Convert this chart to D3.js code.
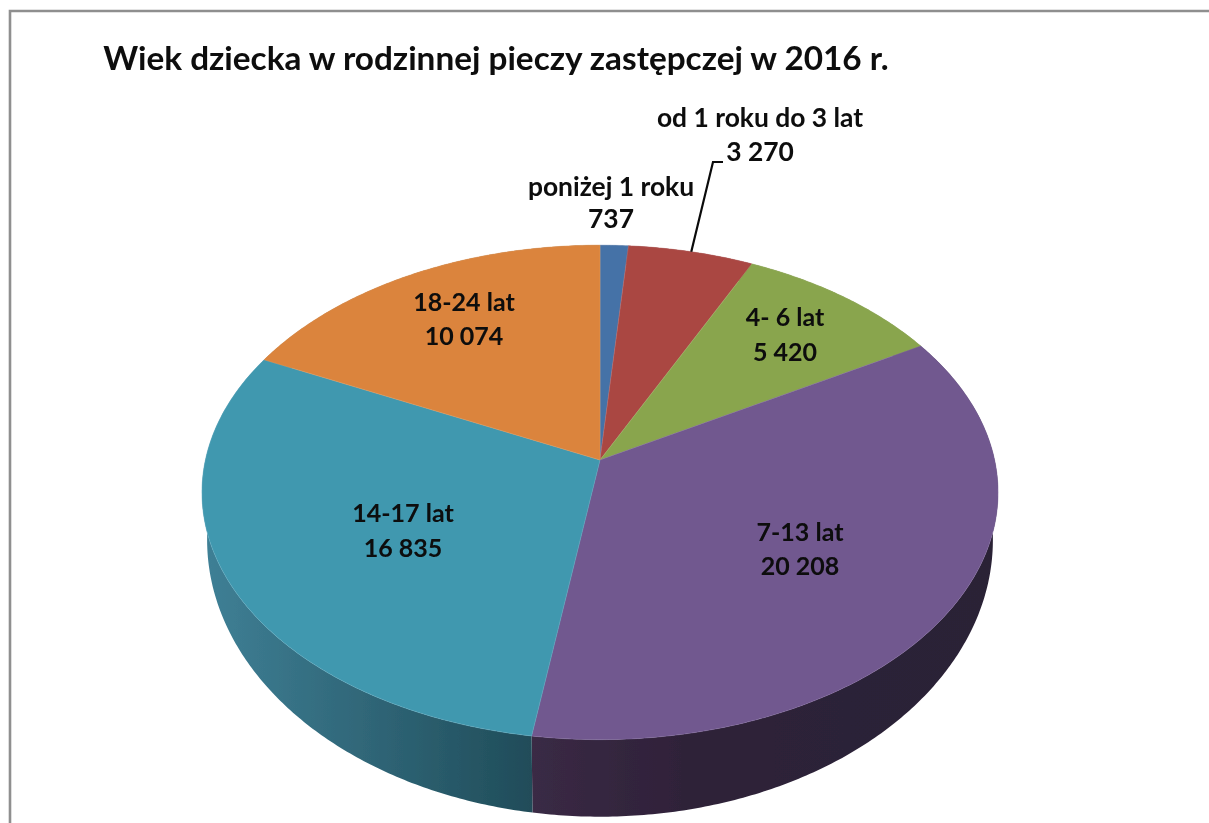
<!DOCTYPE html>
<html lang="pl">
<head>
<meta charset="utf-8">
<script src="https://cdn.jsdelivr.net/npm/d3@7/dist/d3.min.js"></script>
<style>
html,body{margin:0;padding:0;background:#fff;overflow:hidden}
svg{display:block}
text{font-family:Lato,"Open Sans",sans-serif;font-weight:700;fill:#0a0a0a;text-anchor:middle}
</style>
</head>
<body>
<svg id="chart" width="1209" height="823"></svg>
<script>
const titleText = "Wiek dziecka w rodzinnej pieczy zastępczej w 2016 r.";
const categories = ["poniżej 1 roku","od 1 roku do 3 lat","4- 6 lat","7-13 lat","14-17 lat","18-24 lat"];
const values = [737,3270,5420,20208,16835,10074];
const valueLabels = ["737","3 270","5 420","20 208","16 835","10 074"];
const colors = ["#4572a7","#aa4643","#89a54e","#71588f","#4198af","#db843d"];
const edgeColors = ["#7f9fc6","#b8605c","#9db565","#7f679c","#5cabc0","#e39858"];
const sideStops = [
  [[0,"#2e4a6c"],[1,"#2e4a6c"]],
  [[0,"#6e2d2b"],[1,"#6e2d2b"]],
  [[0,"#586a32"],[1,"#586a32"]],
  [[0,"#3a2a45"],[0.35,"#2e2138"],[1,"#2a2036"]],
  [[0,"#3f8096"],[1,"#204c59"]],
  [[0,"#8e5527"],[1,"#8e5527"]]
];
// label layout: [centre x, first baseline, second baseline, font size]
const labelLayout = [
  [611,196,228,26.4],[760,127,161,26.4],[785,326,361,25],
  [800,541,575,25],[403,522,557,25],[464,311,345,25]
];

const svg = d3.select("#chart");
const k = 0.131;
const topDisc = {a:394.6, b:243, cy:460};
const botDisc = {a:389.5, b:272, cy:503.7};
const project = (disc, ang) => {
  const u = Math.sin(ang), v = Math.cos(ang), w = 1 + k*v;
  return [600 + disc.a*u/w, disc.cy - disc.b*v/w];
};
const arcPoints = (disc, a0, a1) => {
  const n = Math.max(2, Math.ceil((a1-a0)/0.01));
  return d3.range(n+1).map(i => project(disc, a0 + (a1-a0)*i/n));
};
const line = d3.line();
const arcs = d3.pie().sort(null).value(d => d)(values);

// frame
svg.append("path").attr("d", line([[10,823],[10,11],[1209,11]]))
  .attr("fill","none").attr("stroke","#8f8f8f").attr("stroke-width",2.6);

const defs = svg.append("defs");
defs.append("filter").attr("id","soft").attr("x","-5%").attr("y","-5%").attr("width","110%").attr("height","110%")
  .append("feGaussianBlur").attr("stdDeviation",0.55);

const pie = svg.append("g").attr("filter","url(#soft)");

// side wall of each slice; the top face covers its far part
arcs.forEach((d,i) => {
  const t = arcPoints(topDisc, d.startAngle, d.endAngle);
  const b = arcPoints(botDisc, d.startAngle, d.endAngle).reverse();
  const xs = t.concat(b).map(p => p[0]);
  const g = defs.append("linearGradient").attr("id","side"+i)
    .attr("gradientUnits","userSpaceOnUse")
    .attr("x1", d3.min(xs)).attr("x2", d3.max(xs)).attr("y1",0).attr("y2",0);
  sideStops[i].forEach(s => g.append("stop").attr("offset",s[0]).attr("stop-color",s[1]));
  pie.append("path").attr("d", line(t.concat(b)) + "Z").attr("fill",`url(#side${i})`);
});

// top face
arcs.forEach((d,i) => {
  const pts = [[600,460]].concat(arcPoints(topDisc, d.startAngle, d.endAngle));
  pie.append("path").attr("d", line(pts) + "Z")
    .attr("fill",colors[i]).attr("stroke",edgeColors[i]).attr("stroke-width",0.5)
    .attr("stroke-linejoin","round");
});

// leader line of the second slice
const mid = (arcs[1].startAngle + arcs[1].endAngle)/2;
svg.append("path").attr("d", line([project(topDisc, mid),[713,162],[723,162]]))
  .attr("fill","none").attr("stroke","#0a0a0a").attr("stroke-width",2.2);

// texts
const textLayer = svg.append("g").attr("filter","url(#soft)");
textLayer.append("text").attr("x",496).attr("y",70).attr("font-size",33.3).text(titleText);
categories.forEach((c,i) => {
  const [x,y1,y2,size] = labelLayout[i];
  textLayer.append("text").attr("x",x).attr("y",y1).attr("font-size",size).text(c);
  textLayer.append("text").attr("x",x).attr("y",y2).attr("font-size",size).text(valueLabels[i]);
});
</script>
</body>
</html>
